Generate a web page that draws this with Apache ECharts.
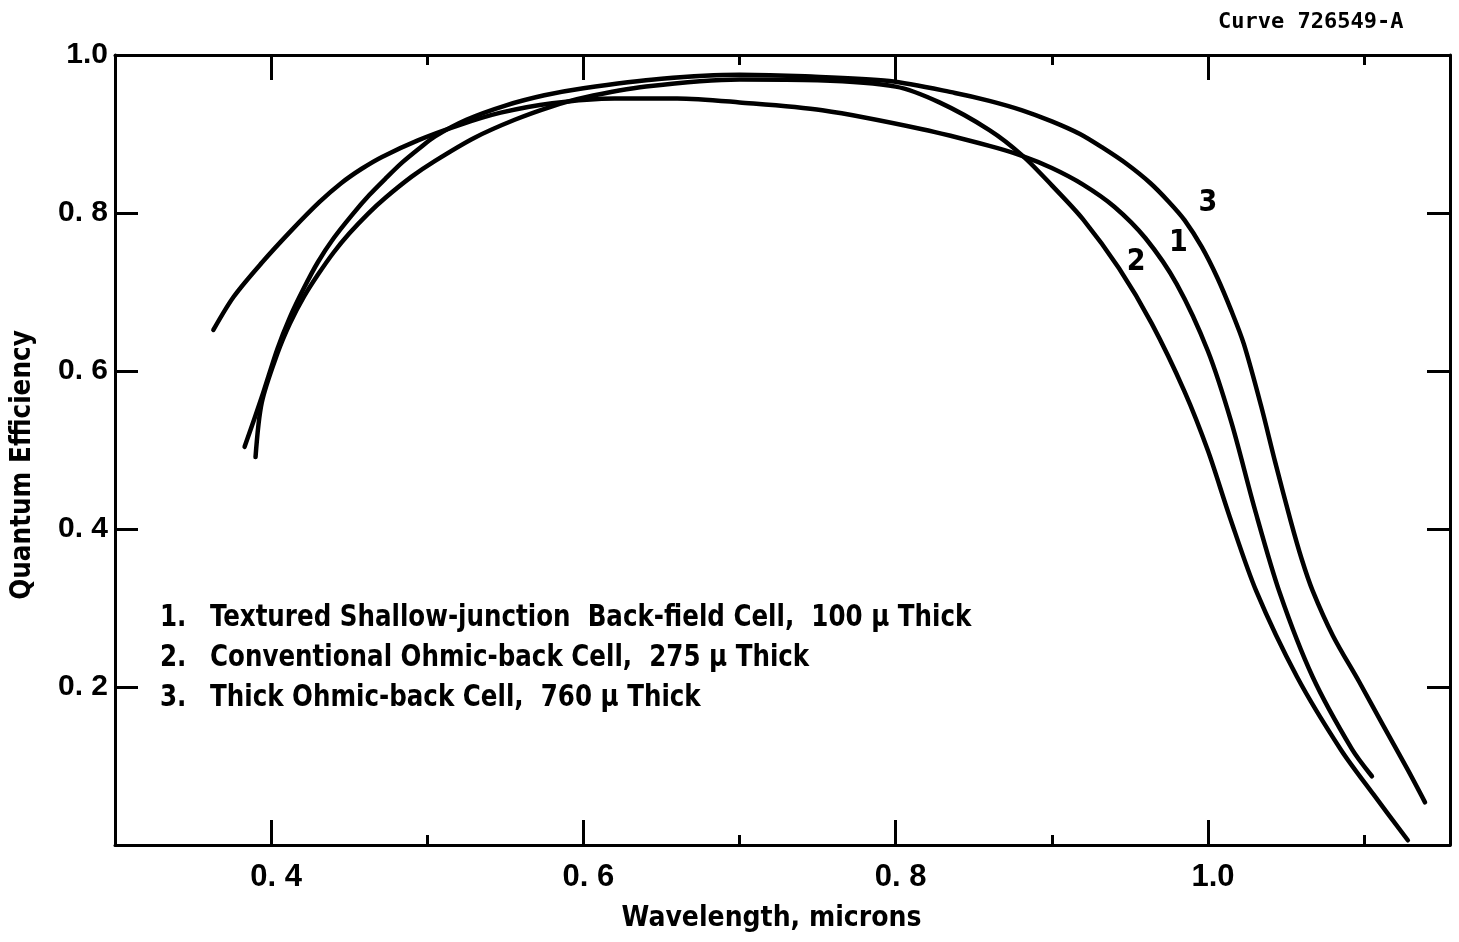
<!DOCTYPE html>
<html>
<head>
<meta charset="utf-8">
<style>
  html, body { margin: 0; padding: 0; background: #ffffff; }
  #chart { width: 1459px; height: 942px; }
</style>
<script src="https://cdn.jsdelivr.net/npm/echarts@6/dist/echarts.min.js"></script>
</head>
<body>
<div id="chart"></div>
<script>
// Spectral quantum efficiency of three silicon solar cells (wavelength in microns)
const cell1Wavelength = [0.363, 0.376, 0.394, 0.413, 0.431, 0.445, 0.458, 0.471, 0.494, 0.520, 0.547, 0.580, 0.620,
  0.660, 0.700, 0.753, 0.817, 0.860, 0.880, 0.900, 0.920, 0.940, 0.960, 0.980, 1.000, 1.015, 1.030, 1.046, 1.067,
  1.092, 1.105];
const cell1Efficiency = [0.652, 0.694, 0.737, 0.778, 0.814, 0.838, 0.856, 0.871, 0.892, 0.911, 0.927, 0.939, 0.945,
  0.945, 0.940, 0.930, 0.906, 0.885, 0.873, 0.857, 0.836, 0.808, 0.768, 0.710, 0.625, 0.535, 0.425, 0.319, 0.213,
  0.122, 0.087];

const cell2Wavelength = [0.390, 0.394, 0.404, 0.412, 0.421, 0.430, 0.440, 0.450, 0.462, 0.473, 0.490, 0.505, 0.530,
  0.556, 0.580, 0.600, 0.640, 0.700, 0.750, 0.800, 0.828, 0.860, 0.881, 0.900, 0.920, 0.943, 0.964, 0.985, 1.000,
  1.014, 1.031, 1.057, 1.085, 1.106, 1.128];
const cell2Efficiency = [0.491, 0.560, 0.622, 0.660, 0.694, 0.722, 0.750, 0.774, 0.799, 0.819, 0.846, 0.866, 0.895,
  0.918, 0.935, 0.946, 0.960, 0.969, 0.968, 0.960, 0.940, 0.905, 0.873, 0.835, 0.792, 0.730, 0.660, 0.574, 0.499,
  0.415, 0.321, 0.213, 0.121, 0.064, 0.006];

const cell3Wavelength = [0.383, 0.394, 0.404, 0.412, 0.421, 0.430, 0.440, 0.452, 0.463, 0.474, 0.484, 0.495, 0.505,
  0.525, 0.550, 0.575, 0.600, 0.650, 0.700, 0.742, 0.796, 0.838, 0.860, 0.881, 0.900, 0.918, 0.933, 0.948, 0.963,
  0.975, 0.985, 0.996, 1.006, 1.015, 1.023, 1.034, 1.043, 1.053, 1.060, 1.067, 1.080, 1.097, 1.112, 1.128, 1.139];
const cell3Efficiency = [0.504, 0.567, 0.628, 0.668, 0.705, 0.738, 0.768, 0.798, 0.823, 0.845, 0.864, 0.882, 0.897,
  0.918, 0.936, 0.949, 0.958, 0.970, 0.975, 0.973, 0.967, 0.952, 0.942, 0.930, 0.916, 0.900, 0.882, 0.862, 0.838,
  0.814, 0.791, 0.757, 0.718, 0.676, 0.634, 0.556, 0.485, 0.410, 0.362, 0.322, 0.265, 0.206, 0.152, 0.095, 0.054];

// Axis ticks and their printed labels
const xMajorTicks = [0.4, 0.6, 0.8, 1.0];
const xMajorLabels = ['0. 4', '0. 6', '0. 8', '1.0'];
const xMinorTicks = [0.5, 0.7, 0.9, 1.1];
const yTicks = [0.2, 0.4, 0.6, 0.8, 1.0];
const yTickLabels = ['0. 2', '0. 4', '0. 6', '0. 8', '1.0'];

// Key text and the curve numbers written beside the curves
const keyNumbers = ['1.', '2.', '3.'];
const keyLines = [
  'Textured Shallow-junction  Back-field Cell,  100 \u03bc Thick',
  'Conventional Ohmic-back Cell,  275 \u03bc Thick',
  'Thick Ohmic-back Cell,  760 \u03bc Thick'
];
const curveTags = ['1', '2', '3'];
const curveTagWavelength = [0.981, 0.954, 1.000];
const curveTagEfficiency = [0.762, 0.738, 0.813];

const FONT = '"DejaVu Sans Condensed", "Liberation Sans", sans-serif';
const TICK_FONT = '"Liberation Sans", "DejaVu Sans Condensed", sans-serif';
const X_MIN = 0.3, X_MAX = 1.155;

function pairs(xs, ys) { return xs.map((x, i) => [x, ys[i]]); }
function lookup(values, labels) {
  return v => {
    const i = values.findIndex(t => Math.abs(t - v) < 1e-6);
    return i >= 0 ? labels[i] : '';
  };
}

const axisLine = { show: true, onZero: false, lineStyle: { color: '#000', width: 3 } };
const hiddenLine = { show: false, onZero: false };

function xAxisDef(position, ticks, tickLen, withLabels, lineShown) {
  return {
    type: 'value', position, min: X_MIN, max: X_MAX,
    axisLine: lineShown ? axisLine : hiddenLine,
    splitLine: { show: false },
    axisTick: { show: true, inside: true, length: tickLen, customValues: ticks,
      lineStyle: { color: '#000', width: 3 } },
    axisLabel: withLabels ? {
      show: true, customValues: xMajorTicks, margin: 17, padding: [0, 0, 0, 10],
      formatter: lookup(xMajorTicks, xMajorLabels),
      color: '#000', fontFamily: TICK_FONT, fontWeight: 'bold', fontSize: 31
    } : { show: false }
  };
}

const curveStyle = { color: '#000', width: 4.5, cap: 'round', join: 'round' };
function curveSeries(name, xs, ys) {
  return {
    name, type: 'line', data: pairs(xs, ys), showSymbol: false, smooth: 0.3,
    lineStyle: curveStyle, itemStyle: { color: '#000' }, z: 3, silent: true
  };
}

const chart = echarts.init(document.getElementById('chart'), null, { renderer: 'canvas' });
chart.setOption({
  backgroundColor: '#ffffff',
  animation: false,
  grid: { left: 115, right: 9, top: 55, bottom: 97, containLabel: false },
  xAxis: [
    Object.assign(xAxisDef('bottom', xMajorTicks, 25, true, true), {
      name: 'Wavelength, microns', nameLocation: 'middle', nameGap: 60,
      nameTextStyle: { color: '#000', fontFamily: FONT, fontWeight: 'bold', fontSize: 28, padding: [0, 22, 0, 0] }
    }),
    xAxisDef('bottom', xMinorTicks, 10, false, false),
    xAxisDef('top', xMajorTicks, 25, false, true),
    xAxisDef('top', xMinorTicks, 10, false, false)
  ],
  yAxis: [
    {
      type: 'value', position: 'left', min: 0, max: 1, interval: 0.2,
      axisLine, splitLine: { show: false },
      axisTick: { show: true, inside: true, length: 23, lineStyle: { color: '#000', width: 3 } },
      axisLabel: {
        show: true, customValues: yTicks, margin: 7, formatter: lookup(yTicks, yTickLabels),
        color: '#000', fontFamily: TICK_FONT, fontWeight: 'bold', fontSize: 30
      },
      name: 'Quantum Efficiency', nameLocation: 'middle', nameGap: 78,
      nameTextStyle: { color: '#000', fontFamily: FONT, fontWeight: 'bold', fontSize: 27.5, padding: [0, 30, 0, 0] }
    },
    {
      type: 'value', position: 'right', min: 0, max: 1, interval: 0.2,
      axisLine, splitLine: { show: false },
      axisTick: { show: true, inside: true, length: 23, lineStyle: { color: '#000', width: 3 } },
      axisLabel: { show: false }
    }
  ],
  series: [
    curveSeries('1', cell1Wavelength, cell1Efficiency),
    curveSeries('2', cell2Wavelength, cell2Efficiency),
    curveSeries('3', cell3Wavelength, cell3Efficiency),
    {
      name: 'curve numbers', type: 'scatter', symbolSize: 0, silent: true, z: 4,
      itemStyle: { opacity: 1, color: '#000' },
      data: curveTags.map((t, i) => ({ value: [curveTagWavelength[i], curveTagEfficiency[i]], name: t })),
      label: {
        show: true, position: 'inside', formatter: p => p.name, opacity: 1,
        color: '#000', fontFamily: FONT, fontWeight: 'bold', fontSize: 30
      }
    }
  ],
  graphic: [
    {
      type: 'text', x: 1218, y: 22,
      style: { text: 'Curve 726549-A', fill: '#000', verticalAlign: 'middle',
        fontFamily: '"DejaVu Sans Mono", "Liberation Mono", monospace', fontWeight: 'bold', fontSize: 22 }
    },
    ...keyNumbers.map((n, i) => ({
      type: 'text', x: 160, y: 618 + i * 40, scaleX: 0.91,
      style: { text: n, fill: '#000', verticalAlign: 'middle', fontFamily: FONT, fontWeight: 'bold', fontSize: 30 }
    })),
    ...keyLines.map((s, i) => ({
      type: 'text', x: 210, y: 618 + i * 40, scaleX: 0.91,
      style: { text: s, fill: '#000', verticalAlign: 'middle', fontFamily: FONT, fontWeight: 'bold', fontSize: 30 }
    }))
  ]
});
</script>
</body>
</html>
